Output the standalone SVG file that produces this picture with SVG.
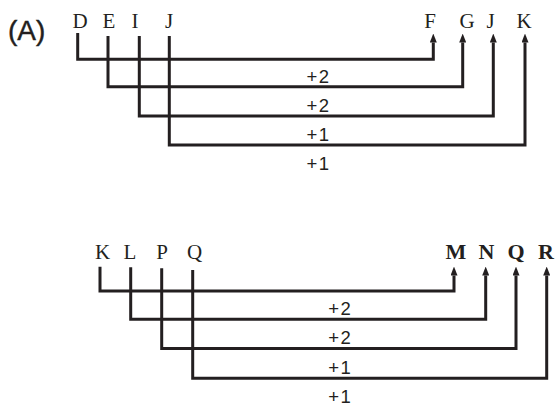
<svg xmlns="http://www.w3.org/2000/svg" width="558" height="405" viewBox="0 0 558 405">
<style>
.ltr{font-family:"Liberation Serif","Times New Roman",serif;font-size:21px;fill:#231f20;text-anchor:middle}
.bold{font-weight:bold;font-size:22px}
.num{font-family:"Liberation Sans",Arial,sans-serif;font-size:18.5px;fill:#231f20;letter-spacing:1.5px}
.ttl{font-family:"Liberation Sans",Arial,sans-serif;font-size:28px;fill:#231f20;stroke:#231f20;stroke-width:0.4}
.con{fill:none;stroke:#231f20;stroke-width:3;stroke-linejoin:miter;marker-end:url(#ah)}
</style>
<defs>
<marker id="ah" markerUnits="userSpaceOnUse" viewBox="0 0 9 7" refX="0" refY="3.5" markerWidth="9" markerHeight="7" orient="auto">
<path d="M0,0 L9,3.5 L0,7 z" fill="#231f20"/>
</marker>
</defs>
<text class="ttl" x="8" y="40">(A)</text>
<g id="top-source">
<text class="ltr" x="80" y="27.5">D</text>
<text class="ltr" x="109" y="27.5">E</text>
<text class="ltr" x="135" y="27.5">I</text>
<text class="ltr" x="169" y="27.5">J</text>
</g>
<g id="top-target">
<text class="ltr" x="430" y="27.5">F</text>
<text class="ltr" x="467" y="27.5">G</text>
<text class="ltr" x="490.5" y="27.5">J</text>
<text class="ltr" x="524" y="27.5">K</text>
</g>
<g id="bottom-source">
<text class="ltr" x="102.5" y="259">K</text>
<text class="ltr" x="130" y="259">L</text>
<text class="ltr" x="162" y="259">P</text>
<text class="ltr" x="194.5" y="259">Q</text>
</g>
<g id="bottom-target">
<text class="ltr bold" x="456" y="258.5">M</text>
<text class="ltr bold" x="486.5" y="258.5">N</text>
<text class="ltr bold" x="516" y="258.5">Q</text>
<text class="ltr bold" x="546" y="258.5">R</text>
</g>
<g id="connectors">
<path class="con" d="M77.7,33 V59.3 H433.3 V42.5"/>
<path class="con" d="M108,36 V86.7 H462.7 V42.5"/>
<path class="con" d="M139.3,36 V116 H493.3 V42.5"/>
<path class="con" d="M169.3,36 V145 H525 V42.5"/>
<path class="con" d="M100,266.7 V291 H454 V275.5"/>
<path class="con" d="M130.7,267.3 V319.3 H485.7 V275.5"/>
<path class="con" d="M161.7,268.3 V348.5 H516 V275.5"/>
<path class="con" d="M192.7,270 V378.3 H546.7 V275.5"/>
</g>
<g id="labels">
<text class="num" x="306.5" y="82.5">+2</text>
<text class="num" x="306.5" y="112">+2</text>
<text class="num" x="306.5" y="141">+1</text>
<text class="num" x="306.5" y="170">+1</text>
<text class="num" x="328.3" y="315">+2</text>
<text class="num" x="328.3" y="344">+2</text>
<text class="num" x="328.3" y="374">+1</text>
<text class="num" x="328.3" y="402.5">+1</text>
</g>
</svg>
